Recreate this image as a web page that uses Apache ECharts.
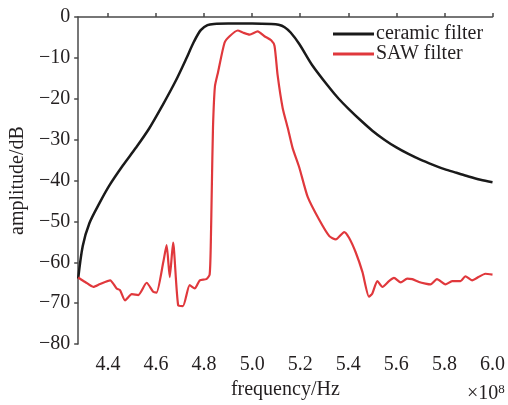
<!DOCTYPE html>
<html>

<head>
    <meta charset="UTF-8" />
    <script src="https://cdn.jsdelivr.net/npm/echarts@6/dist/echarts.min.js"></script>
    <style>
        body {
            margin: 0;
            background: #fff;
        }

        #chart {
            width: 508px;
            height: 405px;
        }
    </style>
</head>

<body>
    <div id="chart"></div>
    <script type="text/javascript">

        // frequency in units of 1e8 Hz
        var ceramicFreq = [4.276, 4.295, 4.323, 4.364, 4.406, 4.461, 4.516, 4.572, 4.627, 4.682, 4.724, 4.758, 4.786, 4.814, 4.841, 4.90, 5.00, 5.08, 5.11, 5.135, 5.16, 5.196, 5.25, 5.32, 5.36, 5.40, 5.45, 5.50, 5.55, 5.60, 5.65, 5.70, 5.75, 5.80, 5.85, 5.90, 5.95, 6.00];
        var ceramicAmp = [-64, -56, -50.4, -45.6, -41.2, -36.4, -32, -27.2, -21.6, -15.6, -10.4, -6, -3.2, -2, -1.7, -1.6, -1.6, -1.7, -1.9, -2.5, -3.8, -6.6, -11.8, -17.2, -20, -22.4, -25.2, -27.8, -30, -31.9, -33.5, -34.9, -36.1, -37.2, -38.1, -39, -39.8, -40.4];

        var sawFreq = [4.276, 4.305, 4.339, 4.367, 4.409, 4.436, 4.450, 4.471, 4.499, 4.526, 4.561, 4.588, 4.602, 4.630, 4.644, 4.657, 4.671, 4.692, 4.712, 4.740, 4.761, 4.782, 4.809, 4.823, 4.828, 4.832, 4.837, 4.845, 4.858, 4.885, 4.906, 4.940, 4.961, 4.989, 5.023, 5.051, 5.079, 5.093, 5.106, 5.127, 5.148, 5.168, 5.196, 5.231, 5.279, 5.321, 5.348, 5.383, 5.403, 5.431, 5.459, 5.486, 5.500, 5.521, 5.542, 5.569, 5.590, 5.618, 5.645, 5.666, 5.694, 5.721, 5.742, 5.769, 5.804, 5.832, 5.867, 5.887, 5.915, 5.942, 5.970, 6.00];
        var sawAmp = [-63.7, -64.8, -66, -65.3, -64.4, -66.4, -66.8, -69.3, -67.8, -68, -65, -67.2, -67.4, -60, -55.8, -63.6, -55.2, -70.5, -70.7, -65.6, -66.4, -64.4, -64.1, -63, -55, -42, -27, -17, -13.5, -6.3, -4.7, -3.3, -3.8, -4.3, -3.5, -4.7, -5.7, -7.1, -14.3, -22.3, -27.1, -32, -36.8, -44, -49.6, -53.6, -54.4, -52.6, -54, -57.6, -62.4, -68.4, -67.6, -64.6, -66, -64.6, -63.8, -64.9, -64, -64.1, -64.8, -65.2, -65.4, -64.1, -65.4, -64.6, -64.6, -63.4, -64.4, -63.6, -62.8, -63];

        var xTicks = [4.4, 4.6, 4.8, 5.0, 5.2, 5.4, 5.6, 5.8, 6.0];

        function zip(a, b) {
            return a.map(function (v, i) { return [v, b[i]]; });
        }

        var font = "'Liberation Serif', 'Times New Roman', serif";
        var textColor = '#231f20';
        var axisColor = '#4a4a4a';

        var myChart = echarts.init(document.getElementById('chart'));
        var option = {
            animation: false,
            grid: {
                left: 78,
                right: 14,
                top: 17,
                bottom: 55
            },
            legend: {
                orient: 'vertical',
                left: 328,
                top: 19,
                itemWidth: 41,
                itemHeight: 3,
                itemGap: 0,
                icon: 'rect',
                textStyle: {
                    fontFamily: font,
                    fontSize: 20,
                    lineHeight: 17,
                    color: textColor,
                    padding: [0, 0, 0, -3]
                },
                data: ['ceramic filter', 'SAW filter']
            },
            xAxis: {
                type: 'value',
                min: 4.276,
                max: 6.0,
                name: 'frequency/Hz',
                nameLocation: 'middle',
                nameGap: 32,
                nameTextStyle: { fontFamily: font, fontSize: 20, color: textColor },
                axisLine: { lineStyle: { color: axisColor, width: 1.5 } },
                axisTick: { inside: true, length: 4, customValues: xTicks, lineStyle: { color: axisColor, width: 1.5 } },
                axisLabel: {
                    customValues: xTicks,
                    margin: 11,
                    fontFamily: font,
                    fontSize: 20,
                    color: textColor,
                    formatter: function (v) { return v.toFixed(1); }
                },
                splitLine: { show: false }
            },
            yAxis: {
                type: 'value',
                min: -80,
                max: 0,
                interval: 10,
                name: 'amplitude/dB',
                nameLocation: 'middle',
                nameGap: 49,
                nameTextStyle: { fontFamily: font, fontSize: 20, color: textColor },
                axisLine: { show: true, lineStyle: { color: axisColor, width: 1.5 } },
                axisTick: { show: true, length: 4, lineStyle: { color: axisColor, width: 1.5 } },
                axisLabel: {
                    margin: 8,
                    padding: [4, 0, 0, 0],
                    fontFamily: font,
                    fontSize: 20,
                    color: textColor,
                    formatter: function (v) { return v < 0 ? '\u2212' + (-v) : String(v); }
                },
                splitLine: { show: false }
            },
            graphic: [{
                type: 'text',
                left: 467,
                top: 383,
                style: {
                    text: '{a|×10}{b|8}',
                    rich: {
                        a: { fontFamily: font, fontSize: 20, fill: textColor },
                        b: { fontFamily: font, fontSize: 13, fill: textColor, verticalAlign: 'top', padding: [0, 0, 8, 0] }
                    }
                }
            }],
            series: [
                {
                    name: 'ceramic filter',
                    type: 'line',
                    data: zip(ceramicFreq, ceramicAmp),
                    smooth: 0.3,
                    symbol: 'none',
                    itemStyle: { color: '#1a1a1a' },
                    lineStyle: { color: '#1a1a1a', width: 2.5 }
                },
                {
                    name: 'SAW filter',
                    type: 'line',
                    data: zip(sawFreq, sawAmp),
                    smooth: 0.2,
                    symbol: 'none',
                    itemStyle: { color: '#e0383c' },
                    lineStyle: { color: '#e0383c', width: 2.2 }
                }
            ]
        };

        myChart.setOption(option);
    </script>
</body>

</html>
